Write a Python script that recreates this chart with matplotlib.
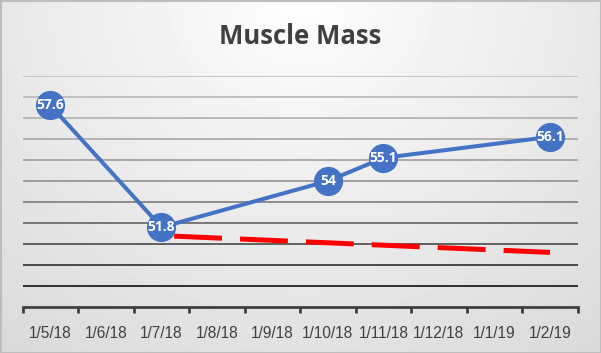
import numpy as np
import matplotlib
matplotlib.use("Agg")
from matplotlib import pyplot as plt

plt.rcParams["lines.scale_dashes"] = False

dates = ["1/5/18", "1/6/18", "1/7/18", "1/8/18", "1/9/18",
         "1/10/18", "1/11/18", "1/12/18", "1/1/19", "1/2/19"]
mass = [57.6, np.nan, 51.8, np.nan, np.nan, 54, 55.1, np.nan, np.nan, 56.1]
goal = [np.nan, np.nan, 51.4, np.nan, np.nan, np.nan, np.nan, np.nan, np.nan, 50.6]
grid_vals = [49, 50, 51, 52, 53, 54, 55, 56, 57, 58, 59]
grid_cols = ["#222222", "#3c3c3c", "#555555", "#6e6e6e", "#858585", "#979797",
             "#a3a3a3", "#adadad", "#b5b5b5", "#bcbcbc", "#c4c4c4"]

W, H = 601, 353
fig = plt.figure(figsize=(W / 100, H / 100), dpi=100)

# background gradient
bg = fig.add_axes([0, 0, 1, 1], zorder=-10)
yy, xx = np.mgrid[0:H, 0:W]
r = np.sqrt(((xx - W / 2) / (W * 0.75)) ** 2 + (yy / (H * 1.15)) ** 2)
shade = np.clip(0.995 - 0.13 * r, 0, 1)
bg.imshow(shade, cmap="gray", vmin=0, vmax=1, aspect="auto", extent=[0, W, H, 0])
bg.plot([0.5, W - 0.5, W - 0.5, 0.5, 0.5], [0.5, 0.5, H - 0.5, H - 0.5, 0.5],
        color="#bdbdbd", lw=1.5)
bg.set_xlim(0, W)
bg.set_ylim(H, 0)
bg.axis("off")

ax = fig.add_axes([22.7 / W, 1 - 307 / H, 555 / W, 231 / H])
ax.patch.set_alpha(0)
x = np.arange(len(dates))

for v, c in zip(grid_vals, grid_cols):
    ax.axhline(v, color=c, lw=1.3, zorder=1)

g = np.array(goal)
gm = ~np.isnan(g)
ax.plot(x[gm], g[gm], color="#ff0000", lw=3.6, linestyle=(38.4, (34.5, 13)),
        zorder=2)

m = np.array(mass)
mm = ~np.isnan(m)
ax.plot(x[mm], m[mm], color="#4472c4", lw=2.9, marker="o", markersize=20,
        zorder=3)
for xi, v in zip(x[mm], m[mm]):
    ax.text(xi, v, f"{v:g}", color="white", fontsize=10, fontweight="bold",
            family="Open Sans", ha="center", va="center", zorder=4)

ax.set_xlim(-0.5, len(dates) - 0.5)
ax.set_ylim(48, 59)
for s in ["top", "right", "left"]:
    ax.spines[s].set_visible(False)
ax.spines["bottom"].set_color("#404040")
ax.spines["bottom"].set_linewidth(2)
ax.set_yticks([])
ax.set_xticks(np.arange(-0.5, len(dates)), minor=False)
ax.set_xticklabels([])
ax.set_xticks(x, minor=True)
ax.set_xticklabels(dates, minor=True, fontsize=11.2, color="#404040",
                   family="Liberation Sans")
ax.tick_params(axis="x", which="major", length=4, width=2, color="#404040")
ax.tick_params(axis="x", which="minor", length=0, pad=14)

fig.text(0.4987, 1 - 36 / H, "Muscle Mass", fontsize=18.5, fontweight="bold",
         family="Open Sans", color="#404040", ha="center", va="center")

fig.savefig("out.png", dpi=100)
